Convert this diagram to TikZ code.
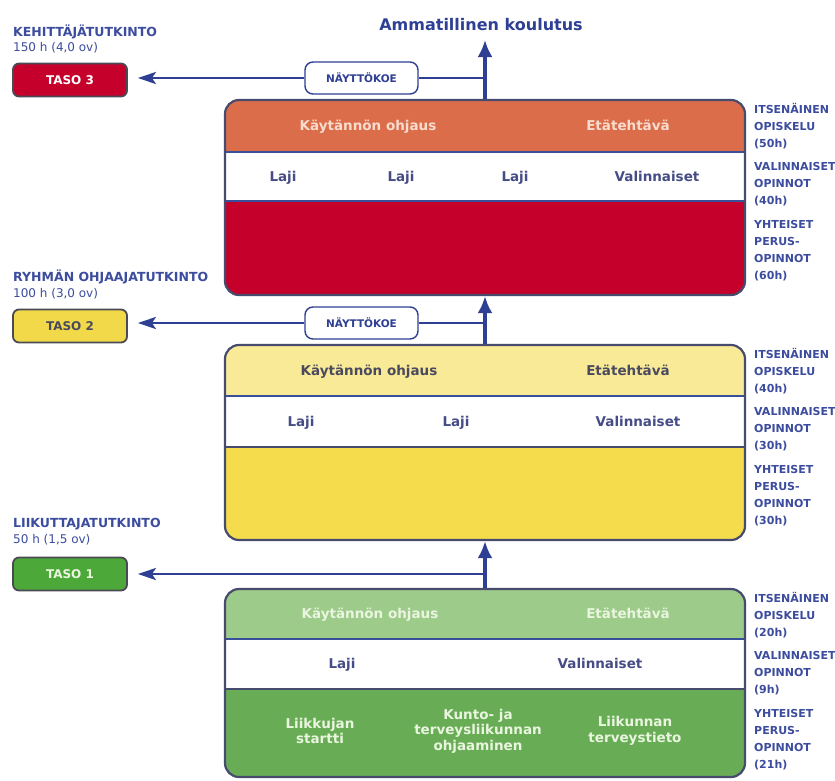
\documentclass[tikz,border=0pt]{standalone}
\usepackage{fontspec}
\setmainfont{DejaVu Sans}
\usetikzlibrary{arrows.meta}
\definecolor{navy}{HTML}{2E3F94}
\definecolor{txtblue}{HTML}{464C86}
\definecolor{lblblue}{HTML}{3C4C9E}
\definecolor{framec}{HTML}{474B6E}
\definecolor{sepc}{HTML}{3A4F9A}
\definecolor{hdrorange}{HTML}{DC6D4B}
\definecolor{redb}{HTML}{C4002B}
\definecolor{hdryellow}{HTML}{F9EA97}
\definecolor{yellowb}{HTML}{F4DC4C}
\definecolor{hdrgreen}{HTML}{9DCB8A}
\definecolor{greenb}{HTML}{68AD56}
\definecolor{tasogreen}{HTML}{4DA83A}
\definecolor{tasoyellow}{HTML}{F2D94A}
\definecolor{tasoframe}{HTML}{4A4A55}
\definecolor{palepeach}{HTML}{F8DDCF}
\definecolor{palegreen}{HTML}{EAF5DF}
\definecolor{darkgrey}{HTML}{4A4A5E}
\begin{document}
\begin{tikzpicture}[x=1pt,y=-1pt,
  boxframe/.style={draw=framec, line width=2.2pt, rounded corners=14pt, minimum width=520pt, inner sep=0pt},
  sepline/.style={draw=sepc, line width=1.8pt},
  sepdark/.style={draw=framec, line width=2pt},
  arr/.style={draw=navy, line width=3.2pt, -{Latex[length=17pt,width=15pt]}},
  larr/.style={draw=navy, line width=2.6pt, -{Stealth[length=18pt,width=12pt,inset=4pt]}, shorten >=10pt},
  conn/.style={draw=navy, line width=2.6pt},
  tasobox/.style={draw=tasoframe, line width=1.8pt, rounded corners=6pt, minimum width=114pt, minimum height=33pt, font=\bfseries\fontsize{12}{14}\selectfont, inner sep=0pt},
  nbox/.style={draw=navy, fill=white, line width=1.4pt, rounded corners=8pt, minimum width=113pt, minimum height=32pt, font=\bfseries\fontsize{10.5}{12}\selectfont, text=navy, inner sep=0pt},
  boxtxt/.style={font=\bfseries\fontsize{13.5}{15.5}\selectfont, inner sep=0pt, align=center, anchor=base},
  multitxt/.style={font=\bfseries\fontsize{13.5}{15.5}\selectfont, inner sep=0pt, align=center},
  lefthead/.style={anchor=base west, inner sep=0pt, font=\bfseries\fontsize{12.5}{14}\selectfont, text=lblblue},
  leftsub/.style={anchor=base west, inner sep=0pt, font=\fontsize{12}{14}\selectfont, text=lblblue},
  sidelbl/.style={anchor=base west, inner sep=0pt, font=\bfseries\fontsize{11}{12}\selectfont, text=lblblue}
]
\useasboundingbox (0,0) rectangle (835,780);
\fill[white] (0,0) rectangle (835,780);

% ---------- box 3 ----------
\begin{scope}
\clip[rounded corners=14pt] (225,100) rectangle (745,295);
\fill[hdrorange] (225,100) rectangle (745,152);
\fill[white] (225,152) rectangle (745,201);
\fill[redb] (225,201) rectangle (745,295);
\end{scope}
\draw[sepline] (225,152) -- (745,152);
\draw[sepline] (225,201) -- (745,201);
\node[boxframe, minimum height=195pt] (b3) at (485,197.5) {};

% ---------- box 2 ----------
\begin{scope}
\clip[rounded corners=14pt] (225,345) rectangle (745,540);
\fill[hdryellow] (225,345) rectangle (745,396);
\fill[white] (225,396) rectangle (745,447);
\fill[yellowb] (225,447) rectangle (745,540);
\end{scope}
\draw[sepline] (225,396) -- (745,396);
\draw[sepdark] (225,447) -- (745,447);
\node[boxframe, minimum height=195pt] (b2) at (485,442.5) {};

% ---------- box 1 ----------
\begin{scope}
\clip[rounded corners=14pt] (225,589) rectangle (745,777);
\fill[hdrgreen] (225,589) rectangle (745,639);
\fill[white] (225,639) rectangle (745,689);
\fill[greenb] (225,689) rectangle (745,777);
\end{scope}
\draw[sepline] (225,639) -- (745,639);
\draw[sepdark] (225,689) -- (745,689);
\node[boxframe, minimum height=188pt] (b1) at (485,683) {};

% ---------- texts inside boxes ----------
\node[boxtxt, text=palepeach] (k3) at (368,130.9) {Käytännön ohjaus};
\node[boxtxt, text=palepeach] (e3) at (628,130.9) {Etätehtävä};
\node[boxtxt, text=txtblue] (l3a) at (283,181.4) {Laji};
\node[boxtxt, text=txtblue] (l3b) at (401,181.4) {Laji};
\node[boxtxt, text=txtblue] (l3c) at (515,181.4) {Laji};
\node[boxtxt, text=txtblue] (v3) at (657,181.4) {Valinnaiset};

\node[boxtxt, text=darkgrey] (k2) at (369,375.4) {Käytännön ohjaus};
\node[boxtxt, text=darkgrey] (e2) at (628,375.4) {Etätehtävä};
\node[boxtxt, text=txtblue] (l2a) at (301,426.4) {Laji};
\node[boxtxt, text=txtblue] (l2b) at (456,426.4) {Laji};
\node[boxtxt, text=txtblue] (v2) at (638,426.4) {Valinnaiset};

\node[boxtxt, text=palegreen] (k1) at (370,618.9) {Käytännön ohjaus};
\node[boxtxt, text=palegreen] (e1) at (628,618.9) {Etätehtävä};
\node[boxtxt, text=txtblue] (l1a) at (342,668.9) {Laji};
\node[boxtxt, text=txtblue] (v1) at (600,668.9) {Valinnaiset};
\node[multitxt, text=palegreen] (m1) at (320,731) {Liikkujan\\startti};
\node[multitxt, text=palegreen] (m2) at (478,731) {Kunto- ja\\terveysliikunnan\\ohjaaminen};
\node[multitxt, text=palegreen] (m3) at (635,731) {Liikunnan\\terveystieto};

% ---------- side labels ----------
\foreach \t/\y [count=\i] in {ITSENÄINEN/109,OPISKELU/126,{(50h)}/143,VALINNAISET/166,OPINNOT/183,{(40h)}/200,YHTEISET/224,PERUS-/241,OPINNOT/258,{(60h)}/275}
  \node[sidelbl] (s3-\i) at (754,\y+4) {\t};
\foreach \t/\y [count=\i] in {ITSENÄINEN/354,OPISKELU/371,{(40h)}/388,VALINNAISET/411,OPINNOT/428,{(30h)}/445,YHTEISET/469,PERUS-/486,OPINNOT/503,{(30h)}/520}
  \node[sidelbl] (s2-\i) at (754,\y+4) {\t};
\foreach \t/\y [count=\i] in {ITSENÄINEN/598,OPISKELU/615,{(20h)}/632,VALINNAISET/655,OPINNOT/672,{(9h)}/689,YHTEISET/713,PERUS-/730,OPINNOT/747,{(21h)}/764}
  \node[sidelbl] (s1-\i) at (754,\y+4) {\t};

% ---------- left labels ----------
\node[lefthead] (h3) at (13,36.5) {KEHITTÄJÄTUTKINTO};
\node[leftsub] (d3) at (13,51.5) {150 h (4,0 ov)};
\node[lefthead] (h2) at (13,281.5) {RYHMÄN OHJAAJATUTKINTO};
\node[leftsub] (d2) at (13,297.5) {100 h (3,0 ov)};
\node[lefthead] (h1) at (13,527.5) {LIIKUTTAJATUTKINTO};
\node[leftsub] (d1) at (13,543) {50 h (1,5 ov)};

\node[tasobox, fill=redb, text=white] (t3) at (70,80) {TASO 3};
\node[tasobox, fill=tasoyellow, text=darkgrey] (t2) at (70,326) {TASO 2};
\node[tasobox, fill=tasogreen, text=palegreen] (t1) at (70,574) {TASO 1};

% ---------- näyttökoe boxes ----------
\node[nbox] (n3) at (361.5,78) {NÄYTTÖKOE};
\node[nbox] (n2) at (361.5,323) {NÄYTTÖKOE};

% ---------- title ----------
\node[anchor=base, inner sep=0pt, font=\bfseries\fontsize{16}{18}\selectfont, text=navy] (title) at (481,30) {Ammatillinen koulutus};

% ---------- connectors ----------
\coordinate (top) at (485,40);
\coordinate (j3) at (485,78);
\coordinate (j2) at (485,323);
\coordinate (j1) at (485,574);

\draw[arr] (b3.north) -- (top);
\draw[conn] (n3.east) -- (j3);
\draw[larr] (n3.west) -- (n3.west -| t3.east);

\draw[arr] (b2.north) -- (b3.south);
\draw[conn] (n2.east) -- (j2);
\draw[larr] (n2.west) -- (n2.west -| t2.east);

\draw[arr] (b1.north) -- (b2.south);
\draw[larr] (j1) -- (j1 -| t1.east);
\end{tikzpicture}
\end{document}
